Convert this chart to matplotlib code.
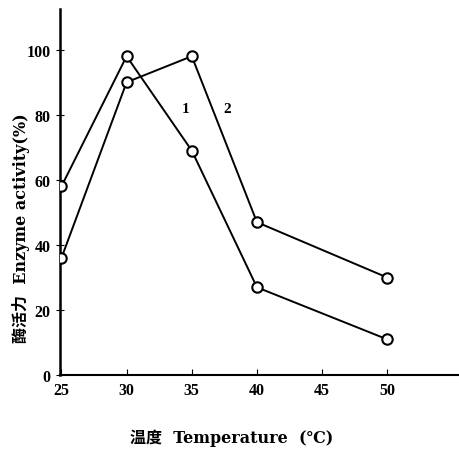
import matplotlib
matplotlib.use("Agg")
import matplotlib.pyplot as plt

plt.rcParams['font.family'] = ['Liberation Serif', 'Noto Sans CJK SC', 'DejaVu Sans']

temps = [25, 30, 35, 40, 50]
curve1 = [58, 98, 69, 27, 11]
curve2 = [36, 90, 98, 47, 30]
xticks = [25, 30, 35, 40, 45, 50]
yticks = [0, 20, 40, 60, 80, 100]

fig = plt.figure(figsize=(4.59, 4.56), dpi=100)
ax = fig.add_axes([0.131, 0.175, 0.869, 0.803])

for ys in (curve1, curve2):
    ax.plot(temps, ys, color='black', lw=1.4, marker='o', ms=7.5,
            mfc='white', mec='black', mew=1.5, zorder=3)

ax.text(34.5, 82, '1', fontsize=11, fontweight='bold', ha='center', va='center')
ax.text(37.7, 82, '2', fontsize=11, fontweight='bold', ha='center', va='center')

ax.set_xlim(24.9, 55.5)
ax.set_ylim(0, 112.5)
ax.set_xticks(xticks)
ax.set_yticks(yticks)
ax.spines['top'].set_visible(False)
ax.spines['right'].set_visible(False)
ax.spines['left'].set_linewidth(1.8)
ax.spines['bottom'].set_linewidth(1.5)
ax.tick_params(axis='x', direction='in', length=4, labelsize=11.5, pad=5)
ax.tick_params(axis='y', direction='inout', length=6, labelsize=11.5, pad=4)
for lab in ax.get_xticklabels() + ax.get_yticklabels():
    lab.set_fontweight('bold')

lab_family = ['DejaVu Serif', 'Noto Sans CJK SC']
fig.text(0.505, 0.04, '温度  Temperature  (℃)', ha='center', va='center',
         fontsize=11.5, fontweight='bold', family=lab_family)
fig.text(0.045, 0.50, '酶活力  Enzyme activity(%)', ha='center', va='center',
         rotation=90, fontsize=11.5, fontweight='bold', family=lab_family)

fig.savefig('out.png', dpi=100)
